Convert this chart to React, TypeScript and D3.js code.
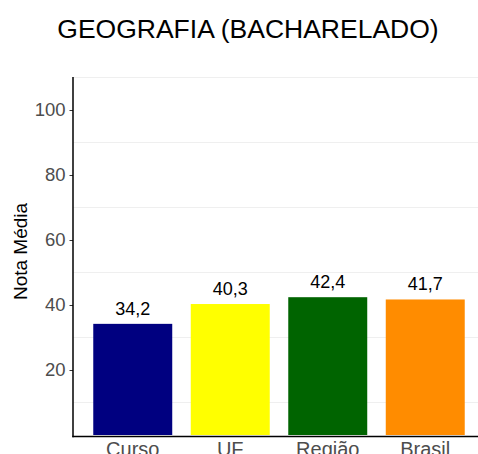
import React, { useEffect, useRef } from "react";
import * as d3 from "d3";

const categories = ["Curso", "UF", "Região", "Brasil"];
const values = [34.2, 40.3, 42.4, 41.7];
const labels = ["34,2", "40,3", "42,4", "41,7"];
const colors = ["#000080", "#FFFF00", "#006400", "#FF8C00"];
const yTicks = [20, 40, 60, 80, 100];
const gridTicks = [10, 30, 50, 70, 90, 110];

const App = () => {
  const ref = useRef<SVGSVGElement>(null);

  useEffect(() => {
    const width = 478;
    const height = 454;
    const font = "'Liberation Sans', Arial, Helvetica, sans-serif";

    const svg = d3.select(ref.current);
    svg.selectAll("*").remove();

    const x = d3.scaleBand()
      .domain(categories)
      .range([84, 474])
      .paddingInner(0.19)
      .paddingOuter(0.095);

    const y = d3.scaleLinear()
      .domain([0, 110])
      .range([435, 77.5]);

    svg.append("rect").attr("width", width).attr("height", height).attr("fill", "white");

    // light minor grid lines
    svg.append("g")
      .selectAll("line")
      .data(gridTicks)
      .enter().append("line")
      .attr("x1", 73)
      .attr("x2", width)
      .attr("y1", d => y(d))
      .attr("y2", d => y(d))
      .attr("stroke", "#ebebeb")
      .attr("stroke-width", 0.8);

    // bars
    svg.append("g")
      .selectAll("rect")
      .data(values)
      .enter().append("rect")
      .attr("x", (d, i) => x(categories[i])!)
      .attr("y", d => y(d))
      .attr("width", x.bandwidth())
      .attr("height", d => y(0) - y(d))
      .attr("fill", (d, i) => colors[i]);

    // value labels
    svg.append("g")
      .selectAll("text")
      .data(values)
      .enter().append("text")
      .attr("x", (d, i) => x(categories[i])! + x.bandwidth() / 2)
      .attr("y", d => y(d) - 9)
      .attr("text-anchor", "middle")
      .style("font-family", font)
      .style("font-size", "18px")
      .attr("fill", "black")
      .text((d, i) => labels[i]);

    // y axis
    const yAxis = svg.append("g")
      .attr("transform", "translate(73,0)")
      .call(d3.axisLeft(y).tickValues(yTicks).tickSize(3.5).tickPadding(4));
    yAxis.select(".domain").remove();
    yAxis.selectAll(".tick line").attr("stroke", "#333333");
    yAxis.selectAll(".tick text")
      .style("font-family", font)
      .style("font-size", "18.5px")
      .attr("fill", "#4d4d4d");

    // x axis
    const xAxis = svg.append("g")
      .attr("transform", "translate(0,436.5)")
      .call(d3.axisBottom(x).tickSize(0).tickPadding(0));
    xAxis.select(".domain").remove();
    xAxis.selectAll(".tick text")
      .attr("dy", null)
      .attr("y", 19.5)
      .style("font-family", font)
      .style("font-size", "20px")
      .attr("fill", "#4d4d4d");

    // axis lines
    svg.append("line")
      .attr("x1", 73).attr("x2", 73)
      .attr("y1", 77).attr("y2", 437.3)
      .attr("stroke", "black").attr("stroke-width", 1.5);
    svg.append("line")
      .attr("x1", 72.3).attr("x2", width)
      .attr("y1", 436.5).attr("y2", 436.5)
      .attr("stroke", "black").attr("stroke-width", 1.5);

    // y axis title
    svg.append("text")
      .attr("transform", "translate(27,251.5) rotate(-90)")
      .attr("text-anchor", "middle")
      .style("font-family", font)
      .style("font-size", "19px")
      .attr("fill", "black")
      .text("Nota Média");

    // title
    svg.append("text")
      .attr("x", 248)
      .attr("y", 37.5)
      .attr("text-anchor", "middle")
      .style("font-family", font)
      .style("font-size", "26.5px")
      .attr("fill", "black")
      .text("GEOGRAFIA (BACHARELADO)");
  }, []);

  return (
    <svg
      ref={ref}
      width={478}
      height={454}
      style={{ position: "absolute", left: 0, top: 0 }}
    ></svg>
  );
};

export default App;
